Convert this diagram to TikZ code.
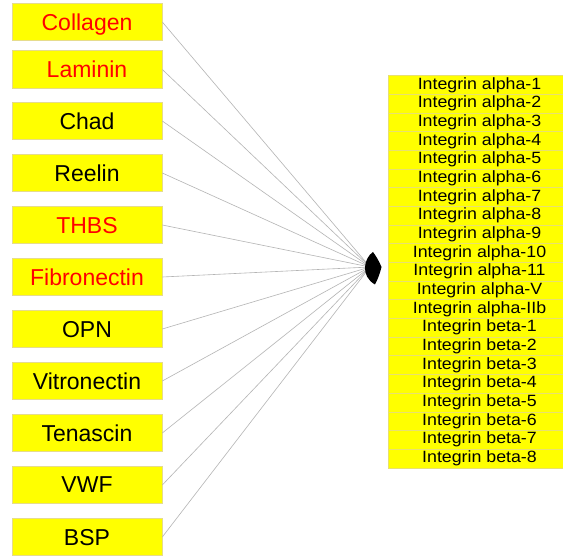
\documentclass[tikz,border=0pt]{standalone}
\usepackage{fontspec}
\setmainfont{Liberation Sans}
\newfontfamily\rowfont[FakeStretch=1.09]{Liberation Sans}
\definecolor{boxyellow}{HTML}{FFFF00}
\definecolor{boxedge}{HTML}{E6DC8C}
\definecolor{rowedge}{HTML}{E8E070}
\definecolor{txtred}{HTML}{FF0000}
\definecolor{linegray}{HTML}{B4B4B4}
\tikzset{
  lbox/.style={draw=boxedge, line width=0.6pt, fill=boxyellow, minimum width=150pt, minimum height=37.5pt, inner sep=0pt, font=\fontsize{23}{23}\selectfont, text depth=0pt},
  redtxt/.style={text=txtred},
  rowbox/.style={draw=rowedge, line width=0.5pt, fill=boxyellow, minimum width=183pt, minimum height=18.67pt, inner sep=0pt, font=\rowfont\fontsize{16.3}{17}\selectfont},
  conn/.style={draw=linegray, line width=0.6pt},
}
\begin{document}
\begin{tikzpicture}[x=1pt,y=-1pt]
\clip (0,0) rectangle (563,556);
\fill[white] (0,0) rectangle (563,556);
% left boxes
\node[lbox,redtxt] (collagen) at (87,22) {Collagen};
\node[lbox,redtxt] (laminin) at (87,69.5) {Laminin};
\node[lbox] (chad) at (87,121) {Chad};
\node[lbox] (reelin) at (87,173) {Reelin};
\node[lbox,redtxt] (thbs) at (87,225) {THBS};
\node[lbox,redtxt] (fibronectin) at (87,277) {Fibronectin};
\node[lbox] (opn) at (87,329) {OPN};
\node[lbox] (vitronectin) at (87,381) {Vitronectin};
\node[lbox] (tenascin) at (87,433) {Tenascin};
\node[lbox] (vwf) at (87,485) {VWF};
\node[lbox] (bsp) at (87,537) {BSP};
% hub
\coordinate (hub) at (370,267);
\foreach \n in {collagen,laminin,chad,reelin,thbs,fibronectin,opn,vitronectin,tenascin,vwf,bsp}
  \draw[conn] (\n.east) -- (hub);
\fill[black] (373,252) .. controls (364,258) and (360,276) .. (375,284.5) .. controls (378,279) and (380,273) .. (381.5,267) .. controls (379,261) and (376,256) .. (373,252) -- cycle;
% right column
\foreach \t [count=\i] in {Integrin alpha-1,Integrin alpha-2,Integrin alpha-3,Integrin alpha-4,Integrin alpha-5,Integrin alpha-6,Integrin alpha-7,Integrin alpha-8,Integrin alpha-9,Integrin alpha-10,Integrin alpha-11,Integrin alpha-V,Integrin alpha-IIb,Integrin beta-1,Integrin beta-2,Integrin beta-3,Integrin beta-4,Integrin beta-5,Integrin beta-6,Integrin beta-7,Integrin beta-8}
  \node[rowbox] (r\i) at (479.5,{75.7+9.335+(\i-1)*18.67}) {\t};
\end{tikzpicture}
\end{document}
